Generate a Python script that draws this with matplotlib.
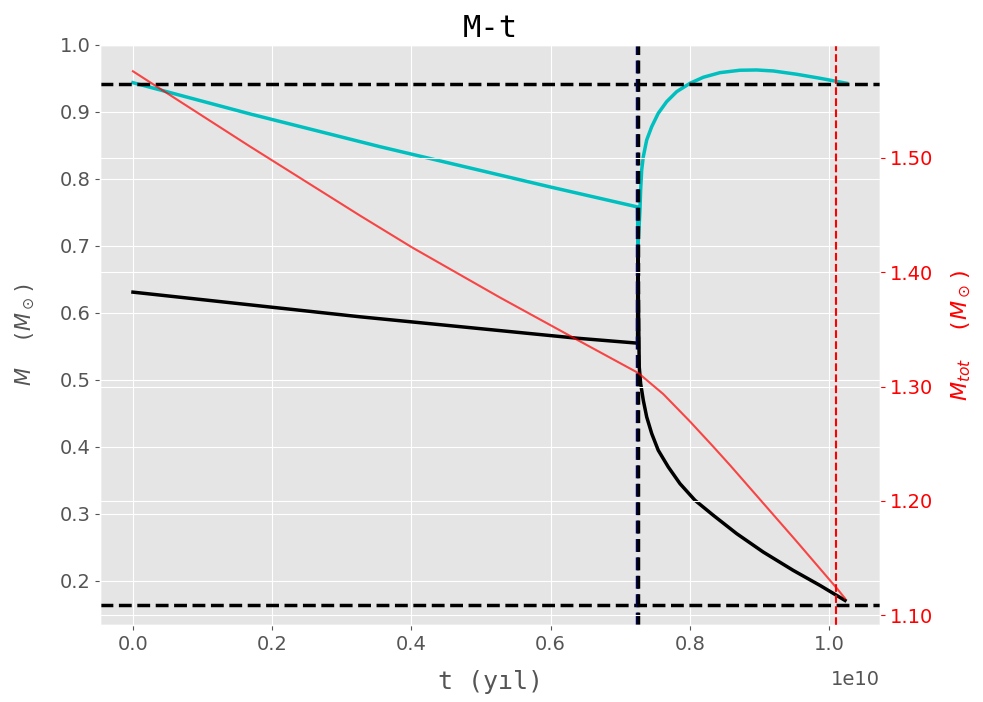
import matplotlib
matplotlib.use("Agg")
import matplotlib.pyplot as plt
from matplotlib.ticker import FormatStrFormatter

plt.style.use("ggplot")

# time in 1e10 yr, masses in solar masses
t_cyan = [0.0, 0.168, 0.355, 0.599, 0.7250, 0.7253, 0.7270, 0.7284, 0.7294,
          0.7309, 0.7332, 0.7381, 0.7453, 0.7547, 0.7668, 0.7812, 0.8003,
          0.8194, 0.8434, 0.8721, 0.8961, 0.9200, 0.9536, 0.9871, 1.0254]
m_cyan = [0.9436, 0.897, 0.848, 0.788, 0.758, 0.698, 0.725, 0.7534, 0.7833,
          0.8132, 0.833, 0.858, 0.8779, 0.8979, 0.9153, 0.9302, 0.9427,
          0.9517, 0.9586, 0.9622, 0.9626, 0.9611, 0.9562, 0.9502, 0.9427]

t_black = [0.0, 0.326, 0.638, 0.7250, 0.7253, 0.7264, 0.7274, 0.7294, 0.7332,
           0.7381, 0.7453, 0.7547, 0.7691, 0.7859, 0.8075, 0.8338, 0.8674,
           0.9056, 0.9487, 0.9871, 1.0230]
m_black = [0.6308, 0.594, 0.562, 0.5546, 0.698, 0.600, 0.5191, 0.4943, 0.4694,
           0.4444, 0.4196, 0.3946, 0.3697, 0.3448, 0.3199, 0.2975, 0.2701,
           0.2426, 0.2152, 0.1928, 0.1704]

t_tot = [0.0, 0.168, 0.326, 0.401, 0.527, 0.638, 0.726, 0.7619, 0.8003,
         0.8330, 0.8578, 0.9052, 0.9540, 1.0115, 1.023]
m_tot = [1.5757, 1.510, 1.4496, 1.4217, 1.378, 1.341, 1.3119, 1.2935, 1.2695,
         1.2480, 1.2313, 1.1983, 1.1643, 1.1235, 1.1148]

m_upper = 0.942
m_lower = 0.163
t_transfer = 0.7251
t_end = 1.010

scale = 1e10
tc = [x * scale for x in t_cyan]
tb = [x * scale for x in t_black]
tt = [x * scale for x in t_tot]

fig, ax1 = plt.subplots(figsize=(9.83, 7.02), dpi=100)
fig.subplots_adjust(left=0.102, right=0.895, top=0.936, bottom=0.110)

ax1.plot(tc, m_cyan, color="c", lw=2.5)
ax1.plot(tb, m_black, color="k", lw=2.5)
ax1.axhline(m_upper, color="k", ls="--", lw=2.5)
ax1.axhline(m_lower, color="k", ls="--", lw=2.5)
ax1.axvline((t_transfer - 0.0016) * scale, color="darkblue", ls="--", lw=2.5)
ax1.axvline(t_transfer * scale, color="k", ls="--", lw=2.5)
ax1.set_xlim(-0.047 * scale, 1.073 * scale)
ax1.set_ylim(0.134, 1.0)

ax1.set_title("M-t", fontsize=22, family="monospace", color="black")
ax1.set_xlabel("t (yıl)", fontsize=18, family="monospace", labelpad=12)
ax1.set_ylabel(r"$M$  ($M_\odot$)", fontsize=15, family="monospace", labelpad=16)
ax1.tick_params(labelsize=14)
ax1.xaxis.get_offset_text().set_fontsize(14)
ax1.xaxis.OFFSETTEXTPAD = 12

ax2 = ax1.twinx()
ax2.plot(tt, m_tot, color="red", alpha=0.7, lw=1.5)
ax2.axvline(t_end * scale, color="red", ls="--", lw=1.5)
ax2.set_ylabel(r"$M_{tot}$  ($M_\odot$)", fontsize=16, family="monospace",
               color="red", labelpad=12)
ax2.yaxis.set_major_formatter(FormatStrFormatter("%.2f"))
ax2.tick_params(axis="y", colors="red", labelsize=14)

fig.savefig("out.png", dpi=100)
